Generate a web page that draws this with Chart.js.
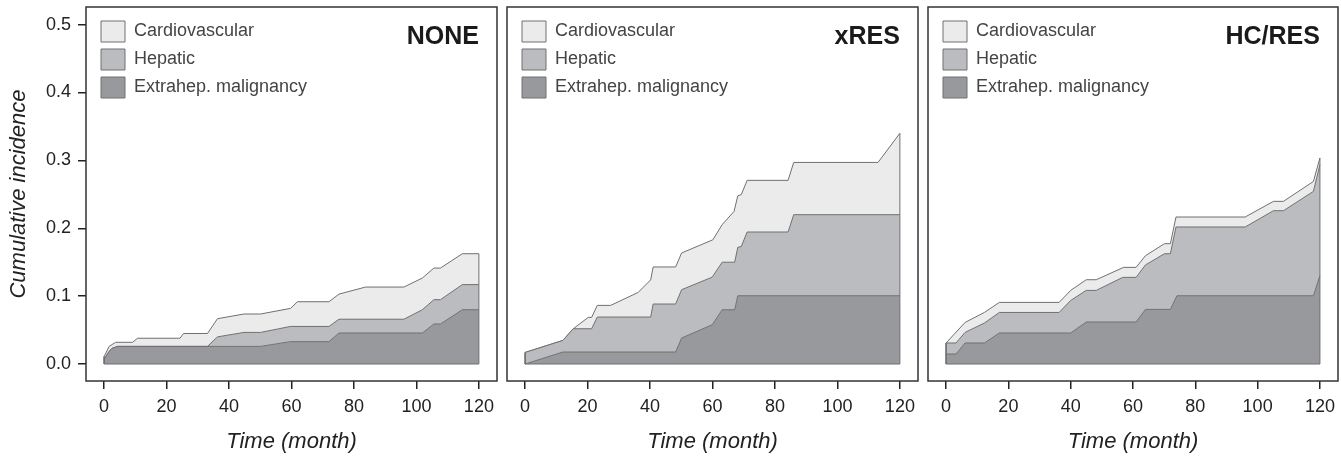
<!DOCTYPE html>
<html>
<head>
<meta charset="utf-8">
<script src="https://cdn.jsdelivr.net/npm/chart.js@4.4.1/dist/chart.umd.min.js"></script>
<style>
    html, body { margin: 0; padding: 0; background: #fff; }
    #wrap { position: relative; width: 1341px; height: 456px; }
    #wrap canvas { position: absolute; top: 0; }
</style>
</head>
<body>
<div id="wrap">
    <canvas id="pNone" width="502" height="456" style="left:0"></canvas>
    <canvas id="pXres" width="421" height="456" style="left:502px"></canvas>
    <canvas id="pHcres" width="418" height="456" style="left:923px"></canvas>
</div>
<script>
// ticks
var xTicks = [0, 20, 40, 60, 80, 100, 120];
var yTicks = [0, 0.1, 0.2, 0.3, 0.4, 0.5];
var causeNames = ["Extrahep. malignancy", "Hepatic", "Cardiovascular"];
var panelNames = ["NONE", "xRES", "HC/RES"];

// cumulative incidence boundaries, [month, value]
var noneMalignancy = [[0, 0.007], [1.5, 0.018], [2.5, 0.023], [4.3, 0.026], [50.1, 0.026], [59.7, 0.033], [72, 0.033], [75.2, 0.0457], [101.9, 0.0457], [105.6, 0.059], [107.7, 0.059], [114.7, 0.080], [120, 0.080]];
var noneHepatic = [[0, 0.007], [1.5, 0.018], [2.5, 0.023], [4.3, 0.026], [33.1, 0.026], [36.3, 0.040], [44.8, 0.0466], [50.1, 0.0466], [59.7, 0.0554], [72, 0.0554], [75.2, 0.066], [96, 0.066], [101.9, 0.080], [105.6, 0.0948], [107.7, 0.0948], [114.7, 0.117], [120, 0.117]];
var noneCardio = [[0, 0.011], [1.6, 0.026], [3.7, 0.032], [9.1, 0.032], [10.7, 0.038], [24.3, 0.038], [25.4, 0.045], [33.1, 0.045], [36.3, 0.0668], [44.8, 0.0737], [50.1, 0.0737], [59.7, 0.082], [61.9, 0.0918], [72, 0.0918], [75.2, 0.103], [83.7, 0.1134], [96, 0.1134], [101.9, 0.1267], [105.6, 0.1414], [107.7, 0.1414], [114.7, 0.1625], [120, 0.1625]];

var xresMalignancy = [[0, 0], [12.1, 0.0177], [48.2, 0.0177], [50.1, 0.0383], [59.9, 0.0579], [63.1, 0.080], [67.1, 0.080], [68.1, 0.1006], [120, 0.1006]];
var xresHepatic = [[0, 0.0171], [12.1, 0.0348], [15.4, 0.052], [21.3, 0.052], [23.1, 0.0692], [40.2, 0.0692], [41.0, 0.0884], [48.2, 0.0884], [50.1, 0.1095], [59.9, 0.128], [63.1, 0.150], [67.1, 0.150], [68.1, 0.172], [69.2, 0.173], [71.1, 0.1945], [84.2, 0.1945], [86.0, 0.220], [120, 0.220]];
var xresCardio = [[0, 0.0171], [12.1, 0.0348], [15.4, 0.052], [20.2, 0.0687], [21.3, 0.0687], [23.1, 0.0864], [27.4, 0.0864], [36.2, 0.1055], [40.2, 0.124], [41.0, 0.143], [48.2, 0.143], [50.1, 0.1636], [60.1, 0.183], [63.1, 0.2053], [66.9, 0.2249], [68.1, 0.248], [69.2, 0.2495], [71.1, 0.2706], [84.2, 0.2706], [86.0, 0.297], [113.0, 0.297], [120, 0.340]];

var hcresMalignancy = [[0, 0.0147], [3.2, 0.0147], [6.1, 0.031], [12.3, 0.031], [17.1, 0.0457], [40.0, 0.0457], [45.0, 0.0619], [61.0, 0.0619], [64.0, 0.0805], [72.0, 0.0805], [74.1, 0.1006], [117.9, 0.1006], [120, 0.130]];
var hcresHepatic = [[0, 0.031], [3.2, 0.031], [6.1, 0.0466], [12.3, 0.0604], [17.1, 0.076], [36.3, 0.076], [40.0, 0.0937], [45.0, 0.1085], [48.2, 0.1085], [56.7, 0.1277], [61.0, 0.1277], [64.0, 0.146], [70.1, 0.1625], [72.0, 0.1625], [73.8, 0.2019], [96.0, 0.2019], [105.1, 0.2259], [108.3, 0.2259], [117.9, 0.2543], [120, 0.2937]];
var hcresCardio = [[0, 0.031], [6.1, 0.0613], [12.3, 0.076], [17.1, 0.0908], [36.3, 0.0908], [40.0, 0.1085], [45.0, 0.1242], [48.2, 0.1242], [57.0, 0.1424], [61.0, 0.1424], [64.0, 0.1596], [70.1, 0.1773], [72.0, 0.1773], [73.8, 0.2166], [96.0, 0.2166], [105.1, 0.2397], [108.3, 0.2397], [117.9, 0.269], [120, 0.3036]];

(function() {
    "use strict";

    var FONT = "'Liberation Sans', Arial, Helvetica, sans-serif";
    var fills = ["#98999d", "#bbbcc0", "#ebebeb"];
    var lineColor = "#707070";
    var inkColor = "#222222";

    Chart.defaults.font.family = FONT;
    Chart.defaults.animation = false;

    function toPoints(pairs) {
        return pairs.map(function(p) {
            return { x: p[0], y: p[1] };
        });
    }

    // outline of the stacked block: left edge, baseline, right edge
    function outline(top) {
        var first = top[0];
        var last = top[top.length - 1];
        return [
            { x: first[0], y: first[1] },
            { x: first[0], y: 0 },
            { x: last[0], y: 0 },
            { x: last[0], y: last[1] }
        ];
    }

    var framePlugin = {
        id: "panelFrame",
        afterLayout: function(chart) {
            // legend sits inside the plot box, a little in from the corner
            var lg = chart.legend;
            if (lg) {
                var h = lg.bottom - lg.top;
                lg.left = chart.chartArea.left + 8;
                lg.right = lg.left + lg.width;
                lg.top = chart.chartArea.top + 7;
                lg.bottom = lg.top + h;
            }
        },
        afterDraw: function(chart, args, opts) {
            var a = chart.chartArea;
            var ctx = chart.ctx;
            ctx.save();
            ctx.strokeStyle = "#333333";
            ctx.lineWidth = 1.5;
            ctx.strokeRect(a.left, a.top, a.right - a.left, a.bottom - a.top);
            ctx.font = "bold 25px " + FONT;
            ctx.fillStyle = "#1a1a1a";
            ctx.textAlign = "right";
            ctx.textBaseline = "alphabetic";
            ctx.fillText(opts.label, chart.scales.x.getPixelForValue(xTicks[xTicks.length - 1]), a.top + 37);
            ctx.restore();
        }
    };

    function createPanel(canvasId, name, series, showY, padding) {
        var datasets = series.map(function(pairs, i) {
            return {
                label: causeNames[i],
                data: toPoints(pairs),
                backgroundColor: fills[i],
                borderColor: lineColor,
                borderWidth: 1,
                pointRadius: 0,
                tension: 0,
                fill: i === 0 ? "origin" : "-1",
                order: 1
            };
        });

        datasets.push({
            label: "edge",
            data: outline(series[series.length - 1]),
            borderColor: lineColor,
            borderWidth: 1,
            pointRadius: 0,
            fill: false,
            order: 0
        });

        new Chart(document.getElementById(canvasId), {
            type: "line",
            data: { datasets: datasets },
            options: {
                responsive: false,
                animation: false,
                layout: { padding: padding },
                plugins: {
                    tooltip: { enabled: false },
                    panelFrame: { label: name },
                    legend: {
                        position: "chartArea",
                        align: "start",
                        reverse: true,
                        labels: {
                            boxWidth: 24,
                            boxHeight: 21,
                            padding: 7,
                            color: "#444444",
                            font: { size: 18 },
                            filter: function(item) {
                                return item.datasetIndex < 3;
                            }
                        }
                    }
                },
                scales: {
                    x: {
                        type: "linear",
                        min: -5.8,
                        max: 125.8,
                        afterBuildTicks: function(scale) {
                            scale.ticks = xTicks.map(function(v) { return { value: v }; });
                        },
                        afterFit: function(scale) {
                            scale.height = 75;
                            scale.paddingLeft = 0;
                            scale.paddingRight = 0;
                        },
                        border: { display: false },
                        grid: {
                            drawOnChartArea: false,
                            drawTicks: true,
                            tickLength: 8,
                            color: inkColor,
                            lineWidth: 1.5
                        },
                        ticks: {
                            color: inkColor,
                            padding: 7,
                            maxRotation: 0,
                            font: { size: 18 },
                            callback: function(v) { return String(v); }
                        },
                        title: {
                            display: true,
                            text: "Time (month)",
                            color: inkColor,
                            font: { size: 22, style: "italic" },
                            padding: { top: 0, bottom: 1 }
                        }
                    },
                    y: {
                        display: showY,
                        min: -0.025,
                        max: 0.526,
                        afterBuildTicks: function(scale) {
                            scale.ticks = yTicks.map(function(v) { return { value: v }; });
                        },
                        afterFit: function(scale) {
                            scale.width = showY ? 86 : 0;
                            scale.paddingTop = 0;
                            scale.paddingBottom = 0;
                        },
                        border: { display: false },
                        grid: {
                            drawOnChartArea: false,
                            drawTicks: true,
                            tickLength: 8,
                            color: inkColor,
                            lineWidth: 1.5
                        },
                        ticks: {
                            color: inkColor,
                            padding: 7,
                            font: { size: 18 },
                            callback: function(v) { return Number(v).toFixed(1); }
                        },
                        title: {
                            display: true,
                            text: "Cumulative incidence",
                            color: inkColor,
                            font: { size: 22, style: "italic" },
                            padding: { top: 6, bottom: 0 }
                        }
                    }
                }
            },
            plugins: [framePlugin]
        });
    }

    createPanel("pNone", panelNames[0], [noneMalignancy, noneHepatic, noneCardio], true,
        { top: 7, right: 5, bottom: 0, left: 0 });
    createPanel("pXres", panelNames[1], [xresMalignancy, xresHepatic, xresCardio], false,
        { top: 7, right: 5, bottom: 0, left: 5 });
    createPanel("pHcres", panelNames[2], [hcresMalignancy, hcresHepatic, hcresCardio], false,
        { top: 7, right: 3, bottom: 0, left: 5 });
})();
</script>
</body>
</html>
